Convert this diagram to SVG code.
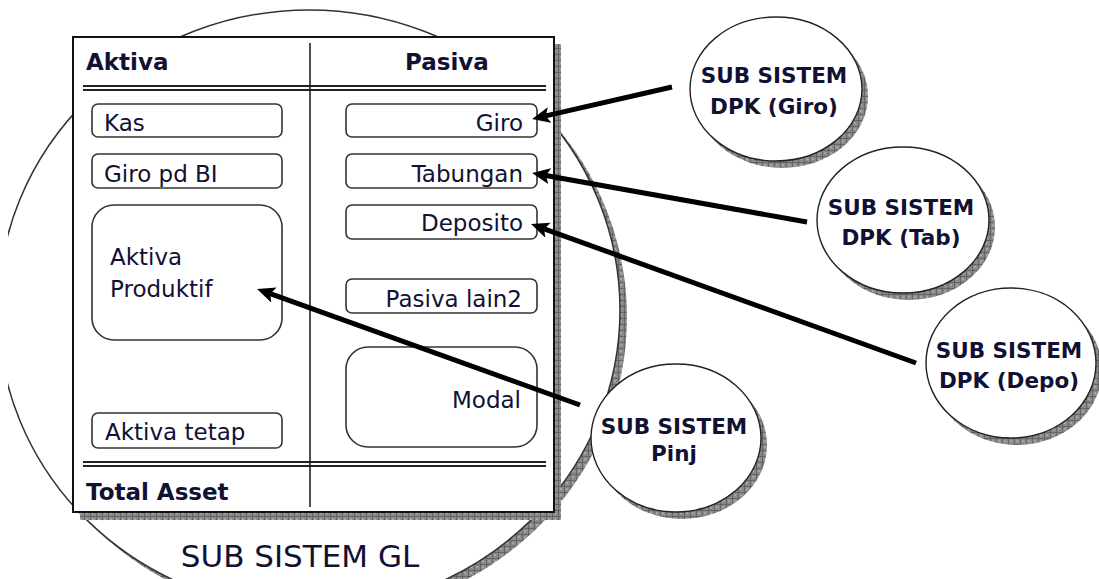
<svg xmlns="http://www.w3.org/2000/svg" width="1099" height="579" viewBox="0 0 1099 579">
<style>
  .t { font-family: "DejaVu Sans", Verdana, sans-serif; font-size: 23px; fill: #111133; }
  .b { font-weight: bold; }
  .c { font-family: "DejaVu Sans", Verdana, sans-serif; font-size: 21.5px; font-weight: bold; fill: #111133; text-anchor: middle; }
  .gl { font-family: "DejaVu Sans", Verdana, sans-serif; font-size: 31px; fill: #111133; text-anchor: middle; }
  .item { fill: #fff; stroke: #333; stroke-width: 1.6; }
  .shadow { fill: url(#hatch); }
  .node { fill: #fff; stroke: #222; stroke-width: 1.4; }
  .conn { stroke: #000; stroke-width: 5; fill: none; marker-end: url(#arr); }
  .rule { stroke: #222; stroke-width: 2.2; }
</style>
<defs>
  <pattern id="hatch" width="6" height="6" patternUnits="userSpaceOnUse">
    <rect width="6" height="6" fill="#8a8a8a"/>
    <path d="M0,0 V6 M0,0 H6" stroke="#333" stroke-width="0.8"/>
    <circle cx="3" cy="3" r="0.6" fill="#fff"/>
  </pattern>
  <marker id="arr" markerUnits="userSpaceOnUse" markerWidth="20" markerHeight="18" refX="4" refY="8" orient="auto">
    <path d="M0,0 L18,8 L0,16 L4,8 z" fill="#000"/>
  </marker>
  <clipPath id="clipL"><rect x="8" y="0" width="1091" height="579"/></clipPath>
</defs>
<rect width="1099" height="579" fill="#fff"/>

<g id="gl" clip-path="url(#clipL)">
  <ellipse class="shadow" cx="316" cy="317" rx="311" ry="300"/>
  <ellipse cx="309" cy="310" rx="311" ry="300" fill="#fff" stroke="#333" stroke-width="1.5"/>
  <text class="gl" x="300" y="567">SUB SISTEM GL</text>
</g>

<g id="neraca">
  <rect class="shadow" x="80" y="44" width="481" height="476"/>
  <rect x="73" y="37" width="481" height="475" fill="#fff" stroke="#111" stroke-width="2"/>
  <line x1="310" y1="43" x2="310" y2="507" stroke="#222" stroke-width="1.6"/>
  <line class="rule" x1="83" y1="86" x2="546" y2="86"/>
  <line class="rule" x1="83" y1="90" x2="546" y2="90"/>
  <line class="rule" x1="83" y1="462" x2="546" y2="462"/>
  <line class="rule" x1="83" y1="466" x2="546" y2="466"/>
  <text class="t b" x="86" y="70">Aktiva</text>
  <text class="t b" x="405" y="70">Pasiva</text>
  <text class="t b" x="86" y="500">Total Asset</text>
</g>

<g id="kas">
  <rect class="item" x="92" y="104" width="190" height="33" rx="6"/>
  <text class="t" x="104" y="131">Kas</text>
</g>
<g id="giro-bi">
  <rect class="item" x="92" y="154" width="190" height="34" rx="6"/>
  <text class="t" x="104" y="182">Giro pd BI</text>
</g>
<g id="aktiva-produktif">
  <rect class="item" x="92" y="205" width="190" height="135" rx="22"/>
  <text class="t" x="110" y="265">Aktiva</text>
  <text class="t" x="110" y="297">Produktif</text>
</g>
<g id="aktiva-tetap">
  <rect class="item" x="92" y="413" width="190" height="35" rx="6"/>
  <text class="t" x="105" y="440">Aktiva tetap</text>
</g>
<g id="giro">
  <rect class="item" x="346" y="104" width="191" height="33" rx="6"/>
  <text class="t" x="523" y="131" text-anchor="end">Giro</text>
</g>
<g id="tabungan">
  <rect class="item" x="346" y="154" width="191" height="34" rx="6"/>
  <text class="t" x="523" y="182" text-anchor="end">Tabungan</text>
</g>
<g id="deposito">
  <rect class="item" x="346" y="205" width="191" height="34" rx="6"/>
  <text class="t" x="523" y="231" text-anchor="end">Deposito</text>
</g>
<g id="pasiva-lain">
  <rect class="item" x="346" y="279" width="191" height="34" rx="6"/>
  <text class="t" x="522" y="307" text-anchor="end">Pasiva lain2</text>
</g>
<g id="modal">
  <rect class="item" x="346" y="347" width="191" height="100" rx="22"/>
  <text class="t" x="521" y="408" text-anchor="end">Modal</text>
</g>

<g id="dpk-giro">
  <ellipse class="shadow" cx="782" cy="96" rx="86" ry="72"/>
  <ellipse class="node" cx="776" cy="89" rx="86" ry="72"/>
  <text class="c" x="774" y="83">SUB SISTEM</text>
  <text class="c" x="774" y="114">DPK (Giro)</text>
</g>
<g id="dpk-tab">
  <ellipse class="shadow" cx="909" cy="227" rx="86" ry="73"/>
  <ellipse class="node" cx="903" cy="220" rx="86" ry="73"/>
  <text class="c" x="901" y="215">SUB SISTEM</text>
  <text class="c" x="901" y="245">DPK (Tab)</text>
</g>
<g id="dpk-depo">
  <ellipse class="shadow" cx="1017" cy="370" rx="85" ry="75"/>
  <ellipse class="node" cx="1011" cy="363" rx="85" ry="75"/>
  <text class="c" x="1009" y="358">SUB SISTEM</text>
  <text class="c" x="1009" y="388">DPK (Depo)</text>
</g>
<g id="pinj">
  <ellipse class="shadow" cx="682" cy="445" rx="85" ry="74"/>
  <ellipse class="node" cx="676" cy="438" rx="85" ry="74"/>
  <text class="c" x="674" y="434">SUB SISTEM</text>
  <text class="c" x="674" y="461">Pinj</text>
</g>

<g id="connectors">
  <line class="conn" x1="672" y1="87" x2="545.7" y2="115.9"/>
  <line class="conn" x1="807" y1="222" x2="545.8" y2="175.5"/>
  <line class="conn" x1="916" y1="363" x2="544.2" y2="228.8"/>
  <line class="conn" x1="580" y1="405" x2="270.2" y2="293.7"/>
</g>
</svg>
